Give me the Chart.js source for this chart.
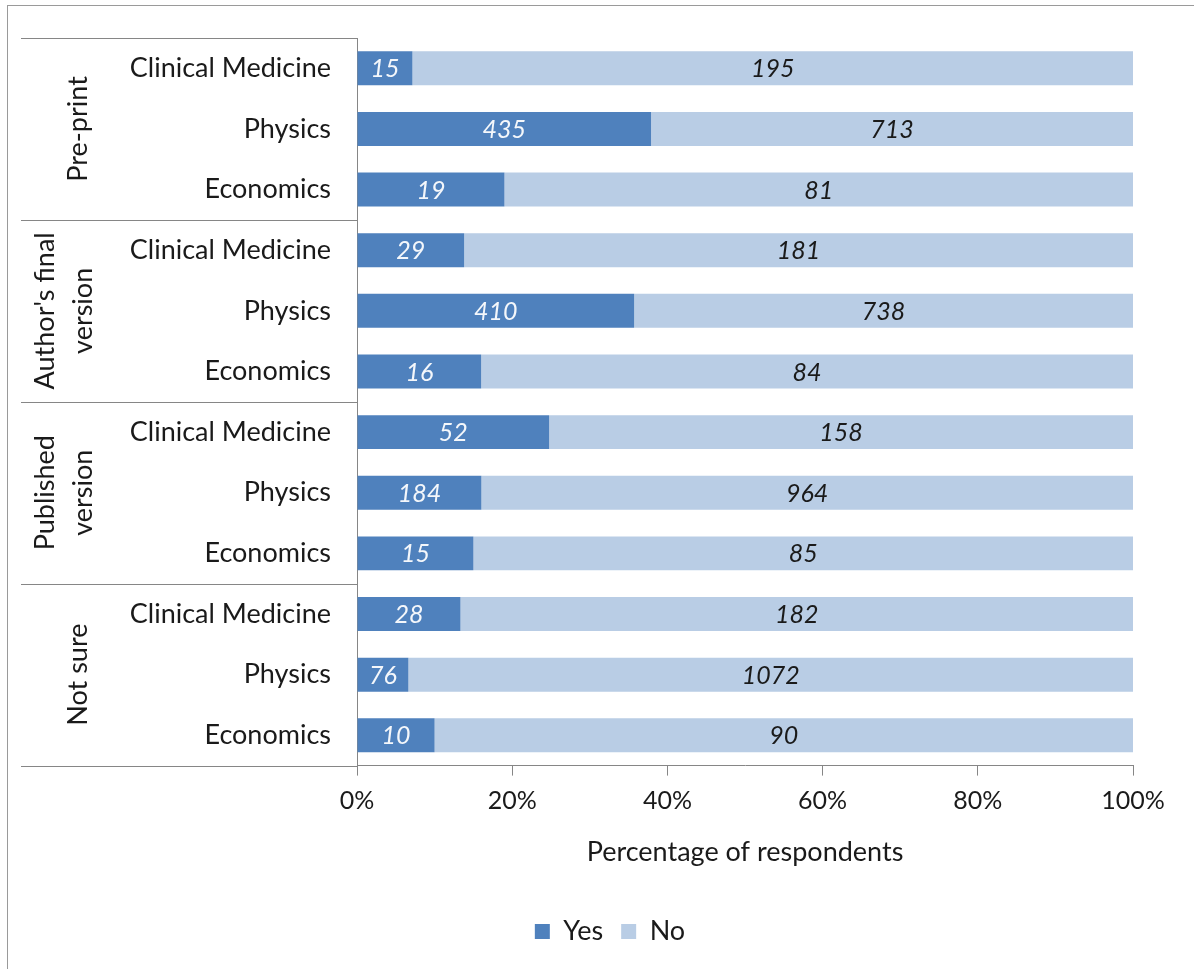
<!DOCTYPE html>
<html>
<head>
<meta charset="utf-8">
<script src="https://cdn.jsdelivr.net/npm/chart.js@4.4.1/dist/chart.umd.min.js"></script>
<style>
  html, body { margin: 0; padding: 0; background: #fff; }
  #wrap { width: 1194px; height: 969px; }
</style>
</head>
<body>
<div id="wrap"><canvas id="myChart" width="1194" height="969"></canvas></div>
<script>
// data (counts of respondents)
const groupLines = [['Pre-print'], ["Author's final", 'version'], ['Published', 'version'], ['Not sure']];
const fields = ['Clinical Medicine', 'Physics', 'Economics'];
const yesCounts = [15, 435, 19, 29, 410, 16, 52, 184, 15, 28, 76, 10];
const noCounts = [195, 713, 81, 181, 738, 84, 158, 964, 85, 182, 1072, 90];
const xTicks = [0, 20, 40, 60, 80, 100];

const labels = [];
groupLines.forEach(() => fields.forEach(f => labels.push(f)));

const yesPct = yesCounts.map((v, i) => v / (v + noCounts[i]) * 100);
const noPct = noCounts.map((v, i) => v / (yesCounts[i] + v) * 100);

const FONT = 'Lato';
const TEXT = '#1a1a1a';
const AXIS = '#868686';

// Frame, group separators, group names and value labels
const extras = {
  id: 'extras',
  afterDraw(chart) {
    const ctx = chart.ctx;
    const yScale = chart.scales.y;
    const area = chart.chartArea;
    const step = (yScale.bottom - yScale.top) / labels.length;

    ctx.save();
    // outer frame
    ctx.strokeStyle = '#9a9a9a';
    ctx.lineWidth = 1;
    ctx.strokeRect(7.5, 5.5, chart.width + 20, chart.height + 20);

    // separators between groups
    ctx.strokeStyle = AXIS;
    for (let g = 0; g <= groupLines.length; g++) {
      const y = Math.round(yScale.top + g * fields.length * step) + 0.5;
      ctx.beginPath();
      ctx.moveTo(21, y);
      ctx.lineTo(area.left, y);
      ctx.stroke();
    }

    // group names, rotated
    ctx.fillStyle = TEXT;
    ctx.font = '27px ' + FONT;
    ctx.textAlign = 'center';
    ctx.textBaseline = 'middle';
    groupLines.forEach((lines, g) => {
      const yc = yScale.top + (g * fields.length + fields.length / 2) * step;
      const xs = lines.length === 1 ? [78] : [45, 83];
      lines.forEach((txt, k) => {
        ctx.save();
        ctx.translate(xs[k], yc);
        ctx.rotate(-Math.PI / 2);
        ctx.fillText(txt, 0, 0);
        ctx.restore();
      });
    });

    // value labels inside the bars
    ctx.font = 'italic 25px ' + FONT;
    const sets = [[0, yesCounts, '#f4f7fb'], [1, noCounts, TEXT]];
    sets.forEach(([di, counts, color]) => {
      const meta = chart.getDatasetMeta(di);
      ctx.fillStyle = color;
      meta.data.forEach((bar, i) => {
        const x = (bar.x + bar.base) / 2;
        ctx.fillText(String(counts[i]), x, bar.y + 1);
      });
    });
    ctx.restore();
  }
};

const ctx = document.getElementById('myChart').getContext('2d');
const myChart = new Chart(ctx, {
  type: 'bar',
  data: {
    labels: labels,
    datasets: [
      { label: 'Yes', data: yesPct, backgroundColor: '#4f81bd', barPercentage: 0.56, categoryPercentage: 1 },
      { label: 'No', data: noPct, backgroundColor: '#b9cde5', barPercentage: 0.56, categoryPercentage: 1 }
    ]
  },
  options: {
    indexAxis: 'y',
    responsive: false,
    animation: false,
    layout: { padding: { left: 87, top: 38, right: 61, bottom: 14 } },
    scales: {
      x: {
        stacked: true,
        min: 0,
        max: 100,
        afterBuildTicks: scale => { scale.ticks = xTicks.map(v => ({ value: v })); },
        ticks: {
          callback: v => v + '%',
          color: TEXT,
          font: { family: FONT, size: 25 },
          padding: 10
        },
        grid: { drawOnChartArea: false, drawTicks: true, tickLength: 10, color: AXIS },
        border: { color: AXIS },
        title: {
          display: true,
          text: 'Percentage of respondents',
          color: TEXT,
          font: { family: FONT, size: 27 },
          padding: { top: 10, bottom: 32 }
        }
      },
      y: {
        stacked: true,
        afterFit: scale => {
          scale.width = 270;
          scale.paddingTop = 0;
          scale.paddingBottom = 0;
        },
        ticks: {
          color: TEXT,
          font: { family: FONT, size: 27 },
          padding: 26,
          autoSkip: false
        },
        grid: { drawOnChartArea: false, drawTicks: false },
        border: { color: AXIS }
      }
    },
    plugins: {
      legend: {
        position: 'bottom',
        labels: {
          color: TEXT,
          font: { family: FONT, size: 27 },
          boxWidth: 15,
          boxHeight: 15,
          padding: 18
        }
      },
      tooltip: { enabled: false }
    }
  },
  plugins: [extras]
});
</script>
</body>
</html>
